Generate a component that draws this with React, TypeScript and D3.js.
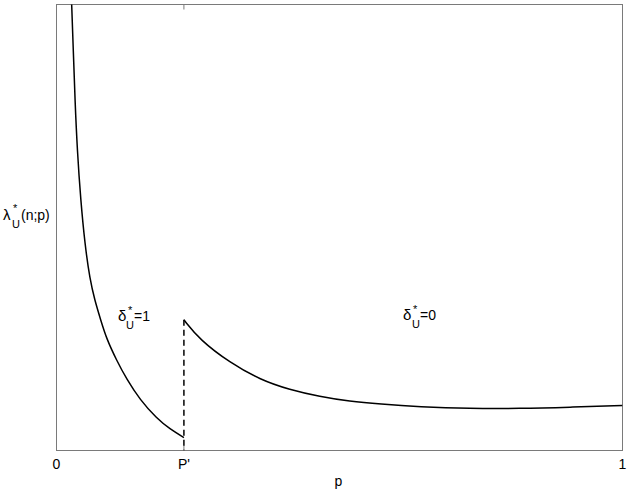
import React from "react";
import * as d3 from "d3";

// p values and lambda values (arbitrary units, 0..10 spans the frame)
const leftP = [0.0247, 0.0268, 0.0297, 0.0327, 0.0367, 0.0427, 0.0503, 0.0591, 0.0674, 0.078, 0.0886, 0.1063, 0.1239, 0.1474, 0.1769, 0.2004, 0.2251];
const leftL = [10.76, 10.0, 8.97, 7.85, 6.73, 5.62, 4.61, 3.83, 3.38, 2.93, 2.5, 2.02, 1.6, 1.14, 0.72, 0.48, 0.29];
const rightP = [0.2251, 0.2533, 0.3063, 0.3592, 0.4122, 0.4651, 0.5181, 0.571, 0.6417, 0.7299, 0.8182, 0.9065, 1.0];
const rightL = [2.93, 2.48, 1.97, 1.59, 1.36, 1.21, 1.1, 1.04, 0.98, 0.94, 0.94, 0.97, 1.01];
const pPrime = 0.2251;
const xTickValues = [0, pPrime, 1];
const xTickLabels = ["0", "P'", "1"];

const W = 629;
const H = 493;
const X0 = 56.5, X1 = 622.5, Y0 = 450.5, Y1 = 4.5;

export default function App() {
  const x = d3.scaleLinear().domain([0, 1]).range([X0, X1]);
  const y = d3.scaleLinear().domain([0, 10]).range([Y0, Y1]);
  const line = d3
    .line<[number, number]>()
    .x((d) => x(d[0]))
    .y((d) => y(d[1]))
    .curve(d3.curveBasis);
  const leftData = leftP.map((p, i) => [p, leftL[i]] as [number, number]);
  const rightData = rightP.map((p, i) => [p, rightL[i]] as [number, number]);
  const font = "'Liberation Sans', Arial, Helvetica, sans-serif";
  const axisColor = "#7a7a7a";
  const jumpTop = rightL[0];

  return (
    <svg width={W} height={H} style={{ position: "absolute", left: 0, top: 0 }} fontFamily={font}>
      <rect x={0} y={0} width={W} height={H} fill="#fff" />
      <defs>
        <clipPath id="plotclip">
          <rect x={X0} y={Y1} width={X1 - X0} height={Y0 - Y1} />
        </clipPath>
      </defs>
      <rect x={X0} y={Y1} width={X1 - X0} height={Y0 - Y1} fill="none" stroke={axisColor} strokeWidth={1} />
      {xTickValues.map((v, i) => (
        <g key={i}>
          <line x1={x(v)} x2={x(v)} y1={Y0} y2={Y0 - 5} stroke={axisColor} />
          <line x1={x(v)} x2={x(v)} y1={Y1} y2={Y1 + 5} stroke={axisColor} />
          <text x={x(v)} y={469} fontSize={14} textAnchor="middle" fill="#000">
            {xTickLabels[i]}
          </text>
        </g>
      ))}
      <g clipPath="url(#plotclip)">
        <path d={line(leftData) || ""} fill="none" stroke="#000" strokeWidth={1.5} />
        <path d={line(rightData) || ""} fill="none" stroke="#000" strokeWidth={1.5} />
        <line x1={x(pPrime)} x2={x(pPrime)} y1={y(jumpTop)} y2={Y0} stroke="#000" strokeWidth={1.5} strokeDasharray="6,4" />
      </g>
      <text x={(X0 + X1) / 2 - 1} y={486} fontSize={14} textAnchor="middle" fill="#000">p</text>
      {/* y label */}
      <text x={3} y={220} fontSize={15} fill="#000">λ</text>
      <text x={13} y={212} fontSize={11} fill="#000">*</text>
      <text x={12} y={228} fontSize={11} fill="#000">U</text>
      <text x={21} y={220} fontSize={14} fill="#000">(n;p)</text>
      {/* region labels */}
      <text x={118} y={321} fontSize={15} fill="#000">δ</text>
      <text x={128} y={314} fontSize={11} fill="#000">*</text>
      <text x={126} y={329} fontSize={11} fill="#000">U</text>
      <text x={134} y={321} fontSize={14} fill="#000">=1</text>
      <text x={403} y={320} fontSize={15} fill="#000">δ</text>
      <text x={413} y={313} fontSize={11} fill="#000">*</text>
      <text x={412} y={328} fontSize={11} fill="#000">U</text>
      <text x={420} y={320} fontSize={14} fill="#000">=0</text>
    </svg>
  );
}
